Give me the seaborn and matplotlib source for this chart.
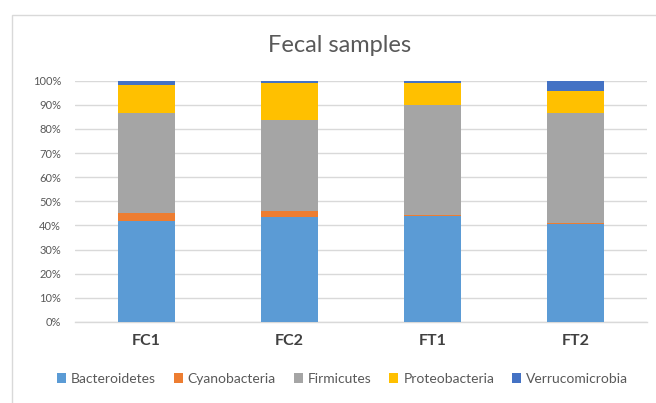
import numpy as np
import pandas as pd
import matplotlib
matplotlib.use("Agg")
import matplotlib.pyplot as plt
from matplotlib.patches import Patch, Rectangle
from matplotlib.ticker import PercentFormatter
import seaborn as sns

# Relative abundance (%) of each phylum per fecal sample
samples = ["FC1", "FC2", "FT1", "FT2"]
phyla = ["Bacteroidetes", "Cyanobacteria", "Firmicutes", "Proteobacteria", "Verrucomicrobia"]
bacteroidetes = [42.0, 43.3, 44.1, 40.8]
cyanobacteria = [3.0, 2.5, 0.3, 0.2]
firmicutes = [41.6, 37.9, 45.5, 45.6]
proteobacteria = [11.6, 15.3, 9.3, 9.0]
verrucomicrobia = [1.8, 1.0, 0.8, 4.4]

colors = ["#5B9BD5", "#ED7D31", "#A5A5A5", "#FFC000", "#4472C4"]

sns.set_theme(style="white")
plt.rcParams["font.family"] = ["Lato", "DejaVu Sans"]

values = np.array([bacteroidetes, cyanobacteria, firmicutes, proteobacteria, verrucomicrobia])
cumulative = values.cumsum(axis=0) / 100.0

fig = plt.figure(figsize=(6.56, 4.03), dpi=100)
fig.patch.set_facecolor("white")
fig.add_artist(Rectangle((0.018, -0.02), 1.2, 0.983, transform=fig.transFigure,
                         fill=False, edgecolor="#d9d9d9", linewidth=1.0))

ax = fig.add_axes([0.1143, 0.201, 0.872, 0.599])

# Stacked bars: draw cumulative totals from the top layer down
for i in range(len(phyla) - 1, -1, -1):
    df = pd.DataFrame({"sample": samples, "share": cumulative[i]})
    sns.barplot(data=df, x="sample", y="share", color=colors[i], width=0.4,
                saturation=1.0, ax=ax, linewidth=0, zorder=3)

ax.set_ylim(0, 1.0)
ax.set_xlim(-0.5, 3.5)
ax.set_yticks(np.arange(0, 1.01, 0.1))
ax.yaxis.set_major_formatter(PercentFormatter(1.0, decimals=0))
ax.grid(axis="y", color="#d9d9d9", linewidth=1.0, zorder=0)
ax.set_axisbelow(True)
for side in ["top", "right", "left"]:
    ax.spines[side].set_visible(False)
ax.spines["bottom"].set_color("#d9d9d9")
ax.spines["bottom"].set_linewidth(1.0)
ax.tick_params(axis="y", length=0, labelsize=8, labelcolor="#595959", pad=10)
ax.tick_params(axis="x", length=0, labelsize=11.5, labelcolor="#404040", pad=9)
for lbl in ax.get_xticklabels():
    lbl.set_fontweight("bold")
ax.set_xlabel("")
ax.set_ylabel("")

fig.text(0.518, 0.888, "Fecal samples", ha="center", va="center",
         fontsize=17, color="#595959")

handles = [Patch(facecolor=c, edgecolor="none", label=p) for c, p in zip(colors, phyla)]
fig.legend(handles=handles, loc="center", bbox_to_anchor=(0.522, 0.06), ncol=5,
           frameon=False, fontsize=10, labelcolor="#595959", handlelength=0.65,
           handleheight=0.65, handletextpad=0.35, columnspacing=1.3)

fig.savefig("out.png", dpi=100, facecolor="white")
